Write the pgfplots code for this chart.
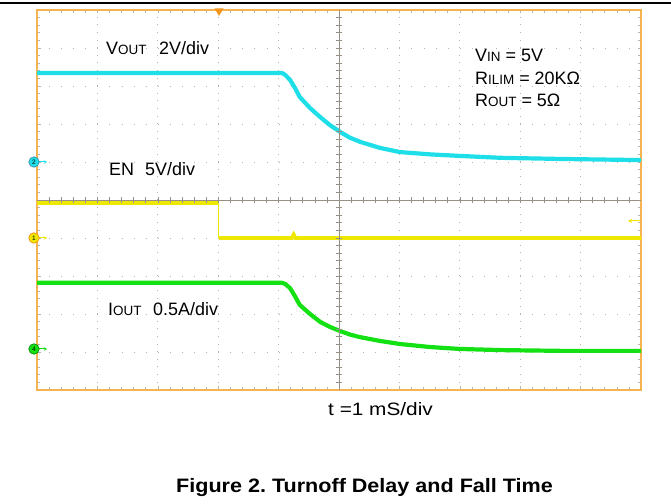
\documentclass[border=0pt]{standalone}
\usepackage{pgfplots}
\pgfplotsset{compat=1.18}
\usepackage{fontspec}
\setmainfont{Liberation Sans}
\usetikzlibrary{arrows.meta}

\definecolor{scopecyan}{RGB}{30,222,232}
\definecolor{scopeyellow}{RGB}{238,232,0}
\definecolor{scopegreen}{RGB}{20,225,20}
\definecolor{frameorange}{RGB}{245,180,80}
\definecolor{trigorange}{RGB}{240,150,30}
\definecolor{gridgray}{RGB}{185,180,170}
\definecolor{centergray}{RGB}{150,144,134}

\newcommand{\lbl}{\fontsize{18}{21}\selectfont}
\newcommand{\sm}{\fontsize{13.5}{16}\selectfont}

\begin{document}
\frenchspacing
\begin{tikzpicture}[x=1bp,y=1bp]
\path[use as bounding box] (0,0) rectangle (671,504);
\draw[black, line width=1.2bp] (0,501) -- (671,501);

\begin{axis}[
    at={(37bp,114bp)}, anchor=south west,
    scale only axis,
    width=604bp, height=380bp,
    xmin=0, xmax=10, ymin=0, ymax=10,
    xtick={0,...,10}, ytick={0,...,10},
    xticklabels={}, yticklabels={},
    minor x tick num=4, minor y tick num=4,
    tick align=inside, tick pos=both,
    major tick length=3.5bp, minor tick length=3bp,
    tick style={color=gridgray, line width=0.6bp},
    grid=major,
    major x grid style={gridgray, line width=0.8bp, dash pattern=on 0.8bp off 6.8bp},
    major y grid style={gridgray, line width=0.8bp, dash pattern=on 0.8bp off 11.28bp},
    axis line style={frameorange, line width=2bp},
    clip=false,
]
% VOUT (ch2)
\addplot[scopecyan, line width=4.2bp, line join=round] coordinates {
    (0,8.34) (4.06,8.34) (4.11,8.29) (4.19,8.16) (4.27,7.95) (4.35,7.71)
    (4.52,7.42) (4.69,7.18) (4.85,6.97) (5.02,6.79) (5.18,6.64) (5.35,6.53)
    (5.68,6.37) (6.01,6.26) (6.51,6.20) (7.00,6.16) (7.67,6.11) (8.66,6.08) (10,6.05)
};
% EN (ch1)
\addplot[scopeyellow, line width=3.2bp] coordinates {(0,4.92) (3.01,4.92)};
\addplot[scopeyellow, line width=1bp] coordinates {(3.01,4.92) (3.01,4.0)};
\addplot[scopeyellow, line width=3.8bp] coordinates {
    (3.01,4.0) (4.22,4.0) (4.25,4.09) (4.28,4.0) (10,4.0)
};
% IOUT (ch4)
\addplot[scopegreen, line width=4.2bp, line join=round] coordinates {
    (0,2.82) (4.06,2.82) (4.11,2.79) (4.19,2.68) (4.27,2.47) (4.35,2.24)
    (4.52,2.00) (4.69,1.79) (4.85,1.66) (5.02,1.55) (5.18,1.46) (5.35,1.39)
    (5.68,1.29) (6.01,1.21) (6.51,1.13) (7.00,1.08) (7.67,1.05) (8.66,1.03) (10,1.03)
};
\end{axis}

% center graticule lines with ticks
\draw[centergray, line width=0.9bp] (339,114) -- (339,494);
\draw[centergray, line width=0.9bp] (37,304) -- (641,304);
\foreach \i in {1,...,49} {
  \draw[centergray, line width=0.6bp] ({37+\i*12.08},301) -- ++(0,6);
  \draw[centergray, line width=0.6bp] (336,{114+\i*7.6}) -- ++(6,0);
}

% trigger position marker
\fill[trigorange] (214.5,495.5) -- (223.5,495.5) -- (219,488) -- cycle;
% trigger level marker
\draw[scopeyellow, line width=1bp, -{Stealth[length=4bp,width=4bp]}] (640,283) -- (628,283);

% channel markers
\foreach \yy/\num/\col/\edge in {342/2/scopecyan/cyan!60!black, 266/1/scopeyellow/orange, 155/4/scopegreen/green!50!black} {
  \draw[\col, line width=1bp, -{Stealth[length=3bp,width=3.5bp]}] (38,\yy) -- (47,\yy);
  \node[circle, draw=\edge, fill=\col, line width=0.6bp, inner sep=0pt, minimum size=10.5bp,
        font=\fontsize{6.5}{6.5}\selectfont] at (34,\yy) {\num};
}

% channel labels
\node[anchor=base west, inner sep=0pt] at (106,449) {\lbl V\sm OUT};
\node[anchor=base west, inner sep=0pt] at (159,449) {\lbl 2V/div};
\node[anchor=base west, inner sep=0pt] at (109,328) {\lbl EN};
\node[anchor=base west, inner sep=0pt] at (145,328) {\lbl 5V/div};
\node[anchor=base west, inner sep=0pt] at (108,188) {\lbl I\sm OUT};
\node[anchor=base west, inner sep=0pt] at (153,188) {\lbl 0.5A/div};

% conditions
\node[anchor=base west, inner sep=0pt] at (475,442) {\lbl V\sm IN\lbl{} = 5V};
\node[anchor=base west, inner sep=0pt] at (475,419) {\lbl R\sm ILIM\lbl{} = 20KΩ};
\node[anchor=base west, inner sep=0pt] at (475,397) {\lbl R\sm OUT\lbl{} = 5Ω};

% time base and caption
\node[anchor=base west, inner sep=0pt] at (328,88) {\scalebox{1.16}[1]{\lbl t =1 mS/div}};
\node[anchor=base west, inner sep=0pt] at (176,11) {\scalebox{1.11}[1]{\fontsize{19.5}{22}\selectfont\bfseries Figure 2. Turnoff Delay and Fall Time}};
\end{tikzpicture}
\end{document}
